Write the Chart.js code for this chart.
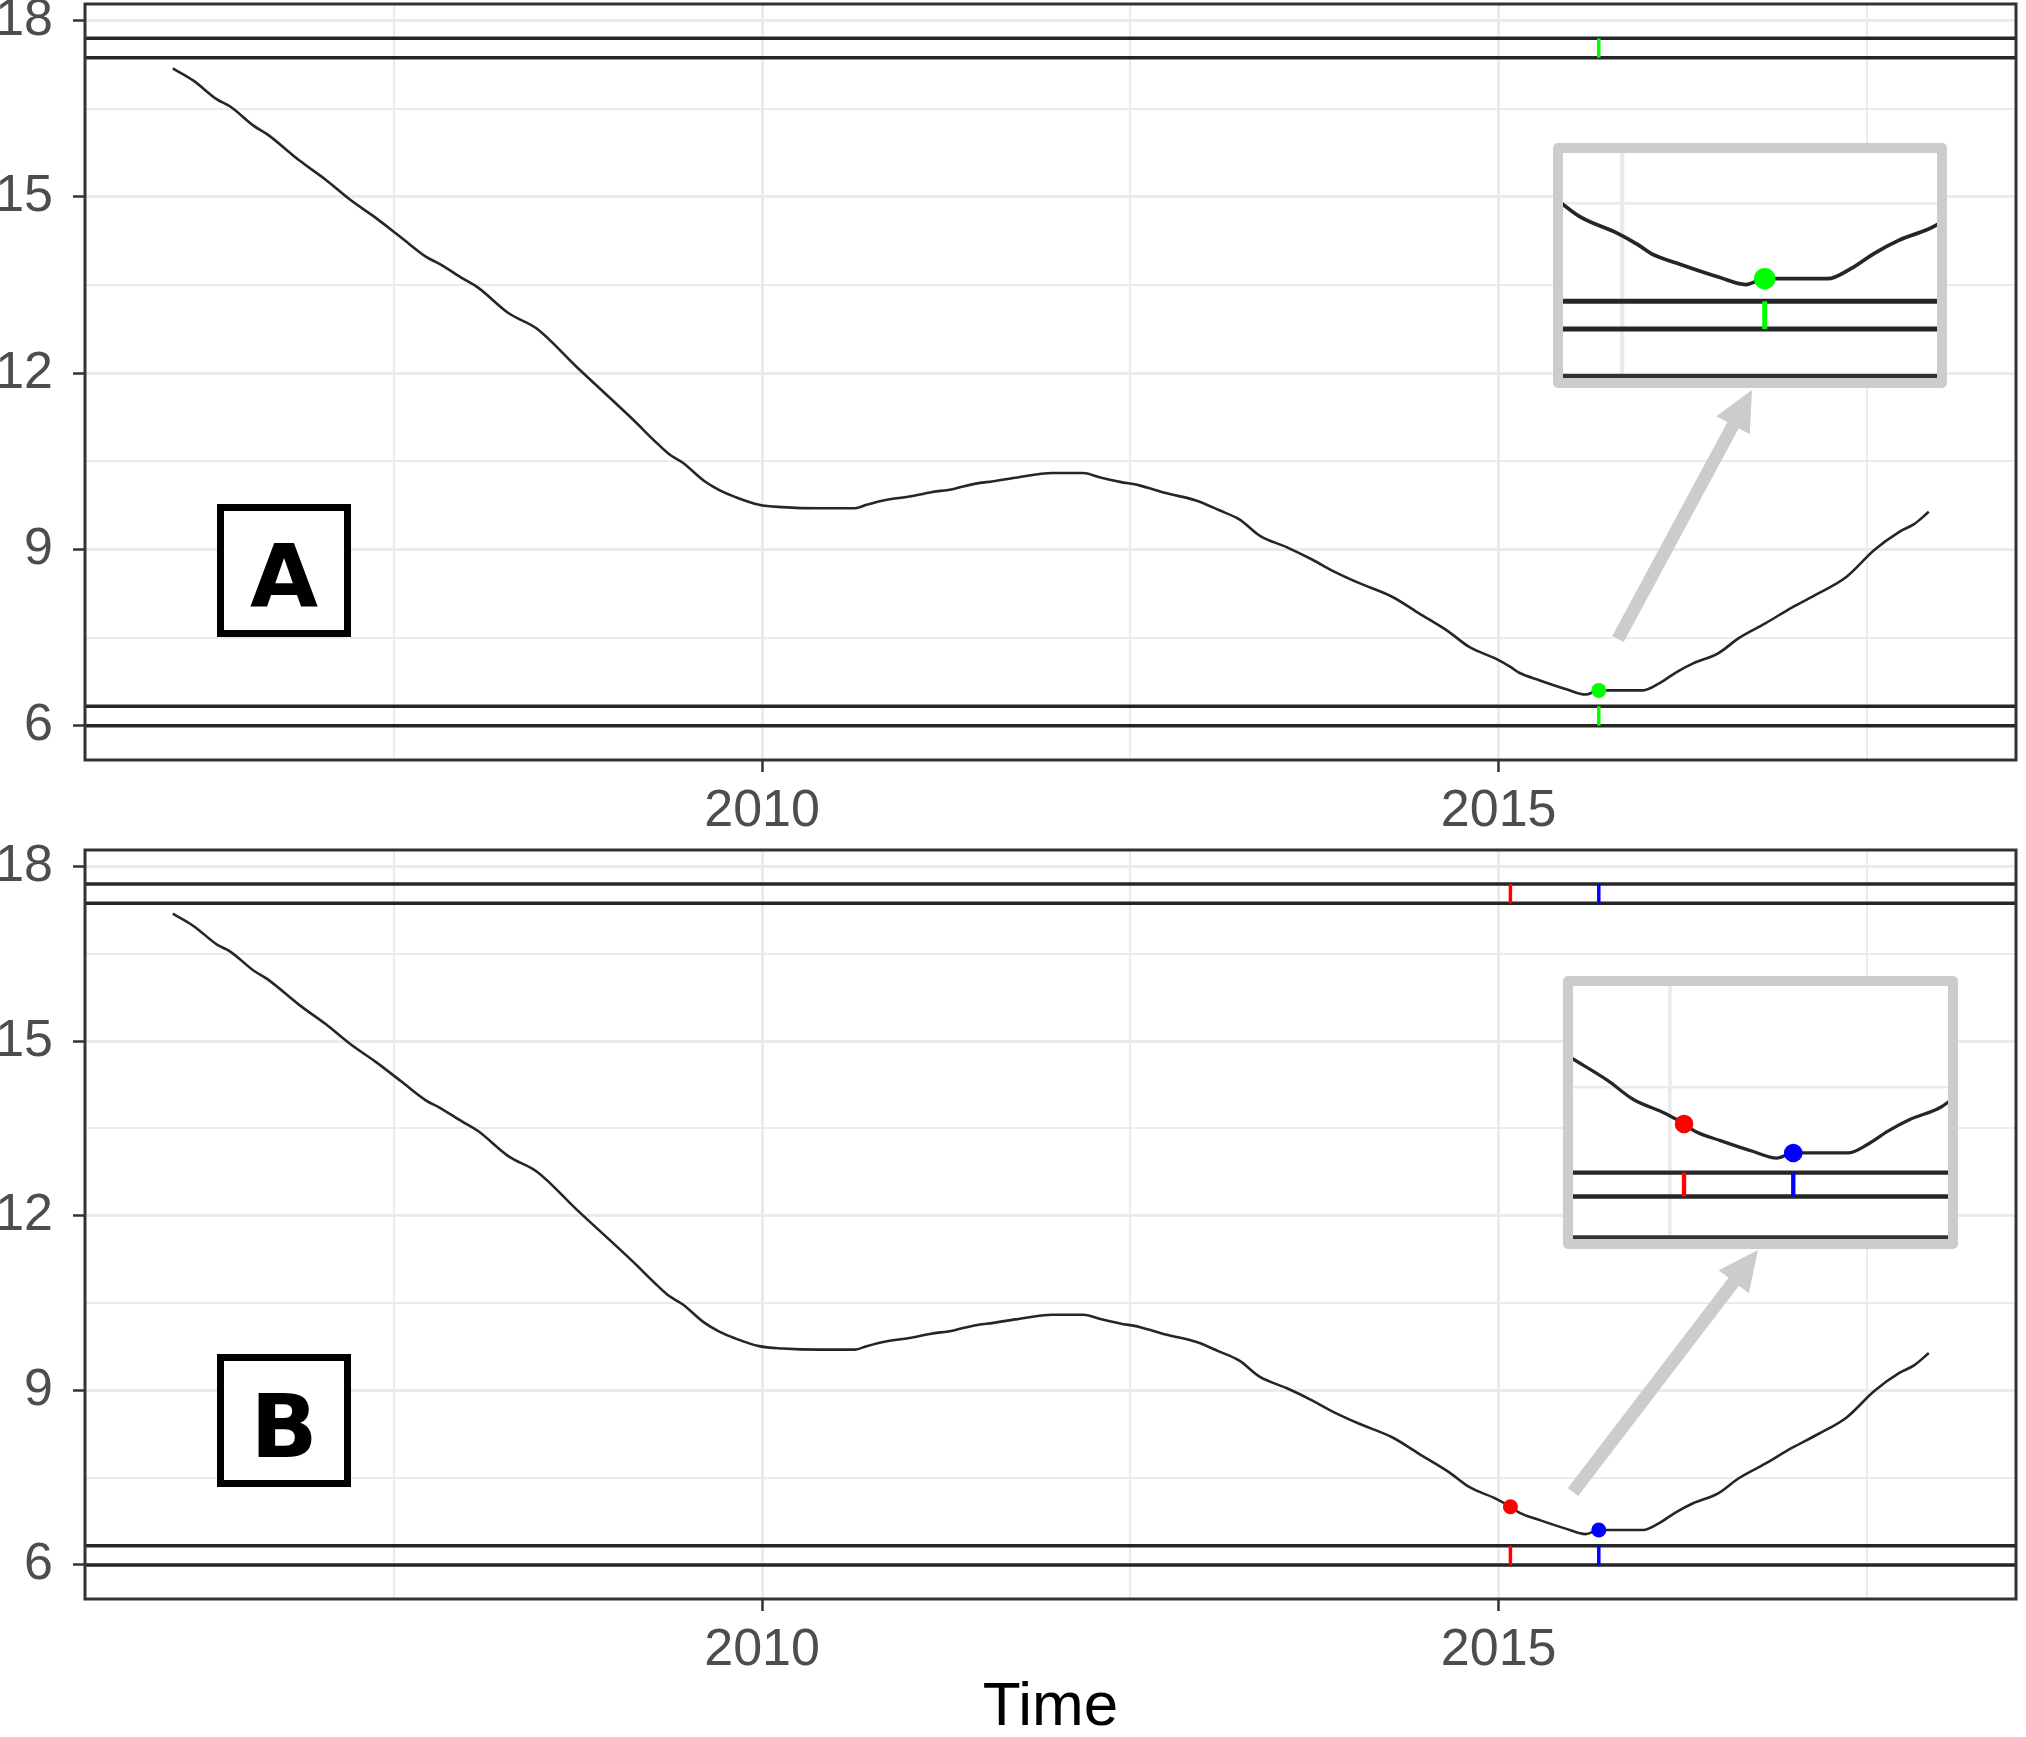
<!DOCTYPE html>
<html>
<head>
<meta charset="utf-8">
<title>Time series with change points</title>
<script src="https://cdn.jsdelivr.net/npm/chart.js@4.4.1/dist/chart.umd.min.js"></script>
<style>
  html, body {
    margin: 0;
    padding: 0;
    background: #ffffff;
    width: 2026px;
    height: 1737px;
    overflow: hidden;
    position: relative;
    font-family: "Liberation Sans", Arial, sans-serif;
  }
  .panel { position: absolute; left: 0; }
  .inset {
    position: absolute;
    box-sizing: border-box;
    border: 10px solid #cdcbcc;
    border-radius: 5px;
    background: #ffffff;
    z-index: 6;
  }
  .inset canvas { display: block; }
  .tag {
    position: absolute;
    box-sizing: border-box;
    width: 134px;
    height: 133px;
    border: 7px solid #000000;
    background: #ffffff;
    color: #000000;
    font: bold 88px "DejaVu Sans", sans-serif;
    line-height: 119px;
    text-align: center;
    padding-top: 6px;
    z-index: 6;
  }
  #arrows { position: absolute; left: 0; top: 0; z-index: 5; pointer-events: none; }
</style>
</head>
<body>

<canvas id="chartA" class="panel" width="2026" height="850" style="top:0px"></canvas>
<canvas id="chartB" class="panel" width="2026" height="910" style="top:840px"></canvas>
<canvas id="arrows" width="2026" height="1737"></canvas>

<div class="inset" style="left:1553px; top:143px; width:394px; height:245px;">
  <canvas id="insetA" width="374" height="225"></canvas>
</div>
<div class="inset" style="left:1563px; top:976px; width:395px; height:273px;">
  <canvas id="insetB" width="375" height="253"></canvas>
</div>

<div class="tag" style="left:217px; top:504px;">A</div>
<div class="tag" style="left:217px; top:1354px;">B</div>

<script>
// ==================== DATA ====================

// smoothed series (decimal years)
const years = [
  2006.00, 2006.14, 2006.30, 2006.39, 2006.55, 2006.64, 2006.86, 2007.04, 2007.20, 2007.38,
  2007.55, 2007.72, 2007.81, 2007.97, 2008.07, 2008.28, 2008.47, 2008.74, 2009.12, 2009.29,
  2009.37, 2009.46, 2009.61, 2009.71, 2009.82, 2009.98, 2010.14, 2010.39, 2010.63, 2010.71,
  2010.84, 2011.00, 2011.14, 2011.30, 2011.45, 2011.57, 2011.72, 2011.97, 2012.18, 2012.29,
  2012.43, 2012.56, 2012.74, 2012.95, 2013.10, 2013.24, 2013.38, 2013.56, 2013.74, 2013.87,
  2014.05, 2014.28, 2014.46, 2014.66, 2014.80, 2014.98, 2015.08, 2015.14, 2015.28, 2015.46,
  2015.59, 2015.68, 2015.98, 2016.09, 2016.20, 2016.32, 2016.49, 2016.63, 2016.81, 2016.99,
  2017.17, 2017.36, 2017.55, 2017.72, 2017.82, 2017.92
];
const values = [
  17.19, 16.98, 16.66, 16.54, 16.21, 16.07, 15.62, 15.29, 14.96, 14.64,
  14.31, 13.98, 13.86, 13.61, 13.46, 13.02, 12.76, 12.11, 11.22, 10.80,
  10.62, 10.48, 10.16, 10.01, 9.89, 9.76, 9.72, 9.70, 9.70, 9.76,
  9.84, 9.90, 9.97, 10.03, 10.12, 10.16, 10.22, 10.30, 10.30, 10.23,
  10.15, 10.09, 9.96, 9.83, 9.67, 9.51, 9.23, 9.04, 8.82, 8.64,
  8.43, 8.19, 7.91, 7.60, 7.34, 7.14, 7.00, 6.90, 6.77, 6.62,
  6.53, 6.60, 6.60, 6.72, 6.90, 7.06, 7.23, 7.49, 7.74, 8.01,
  8.25, 8.53, 8.99, 9.30, 9.43, 9.64
];

// horizontal rug bands (bottom pair and top pair)
const bandLevels = [6.0, 6.33, 17.37, 17.7];

// detected change points
const eventsA_x = [2015.68];
const eventsA_y = [6.6];
const eventsA_colors = ["#00ff00"];

const eventsB_x = [2015.08, 2015.68];
const eventsB_y = [7.0, 6.6];
const eventsB_colors = ["#ff0000", "#0000ff"];

// axis ticks
const xMajor = [2010, 2015];
const xMinor = [2007.5, 2012.5, 2017.5];
const yMajor = [6, 9, 12, 15, 18];
const yMinor = [7.5, 10.5, 13.5, 16.5];

// ==================== HELPERS ====================

const isMajor = (list, v) => list.some((m) => Math.abs(m - v) < 1e-6);

const tickFont = { family: "'Liberation Sans', Arial, sans-serif", size: 52 };

const panelBorder = {
  id: "panelBorder",
  afterDatasetsDraw(chart, args, opts) {
    const { ctx, chartArea: a } = chart;
    ctx.save();
    ctx.strokeStyle = "#333333";
    ctx.lineWidth = opts.width || 3;
    if (opts.bottomOnly) {
      ctx.beginPath();
      ctx.moveTo(a.left, a.bottom - ctx.lineWidth / 2);
      ctx.lineTo(a.right, a.bottom - ctx.lineWidth / 2);
      ctx.stroke();
    } else {
      ctx.strokeRect(a.left, a.top, a.right - a.left, a.bottom - a.top);
    }
    ctx.restore();
  },
};

function buildDatasets(xRange, evX, evY, evColors, z) {
  const datasets = [];

  // change points
  datasets.push({
    data: evX.map((x, i) => ({ x: x, y: evY[i] })),
    showLine: false,
    pointRadius: 7.5 * z,
    pointBackgroundColor: evColors,
    pointBorderWidth: 0,
    order: 0,
  });

  // coloured marks inside the bands
  evX.forEach((x, i) => {
    [[bandLevels[0], bandLevels[1]], [bandLevels[2], bandLevels[3]]].forEach((pair) => {
      datasets.push({
        data: [{ x: x, y: pair[0] }, { x: x, y: pair[1] }],
        borderColor: evColors[i],
        borderWidth: 3.5 * z,
        pointRadius: 0,
        order: 1,
      });
    });
  });

  // band lines
  bandLevels.forEach((level) => {
    datasets.push({
      data: [{ x: xRange[0], y: level }, { x: xRange[1], y: level }],
      borderColor: "#262626",
      borderWidth: 3.5 * z,
      pointRadius: 0,
      order: 2,
    });
  });

  // the series
  datasets.push({
    data: years.map((x, i) => ({ x: x, y: values[i] })),
    borderColor: "#262626",
    borderWidth: 2.6 * z,
    pointRadius: 0,
    cubicInterpolationMode: "monotone",
    order: 3,
  });

  return datasets;
}

function axis(min, max, majors, minors, cfg) {
  const z = cfg.zoom || 1;
  return {
    type: "linear",
    min: min,
    max: max,
    afterBuildTicks: (s) => {
      s.ticks = majors.concat(minors).map((v) => ({ value: v }));
    },
    afterFit: (s) => {
      if (cfg.size !== undefined) {
        if (s.isHorizontal()) s.height = cfg.size;
        else s.width = cfg.size;
      }
      // keep the panel edges where the layout puts them
      s.paddingTop = 0;
      s.paddingBottom = 0;
      s.paddingLeft = 0;
      s.paddingRight = 0;
    },
    ticks: {
      display: !cfg.inset,
      autoSkip: false,
      maxRotation: 0,
      padding: cfg.padding || 0,
      color: "#4d4d4d",
      font: tickFont,
      callback: (v) => (isMajor(majors, v) ? String(v) : ""),
    },
    grid: {
      color: "#ebebeb",
      lineWidth: (c) => (c.tick && isMajor(majors, c.tick.value) ? 3 * z : 2 * z),
      drawTicks: !cfg.inset,
      tickLength: 12,
      tickWidth: 2.5,
      tickColor: (c) => (c.tick && isMajor(majors, c.tick.value) ? "#333333" : "rgba(0,0,0,0)"),
    },
    border: { display: false },
    title: cfg.title || { display: false },
  };
}

function makeChart(canvas, cfg) {
  const z = cfg.zoom || 1;
  return new Chart(canvas, {
    type: "line",
    data: {
      datasets: buildDatasets(cfg.xRange, cfg.evX, cfg.evY, cfg.evColors, z),
    },
    options: {
      responsive: false,
      animation: false,
      events: [],
      layout: { padding: cfg.layoutPadding, autoPadding: false },
      plugins: {
        legend: { display: false },
        tooltip: { enabled: false },
        panelBorder: { width: 3 * z, bottomOnly: !!cfg.inset },
      },
      scales: {
        x: axis(cfg.xRange[0], cfg.xRange[1], xMajor, xMinor, {
          inset: cfg.inset,
          zoom: z,
          size: cfg.xSize,
          padding: 8,
          title: cfg.xTitle,
        }),
        y: axis(cfg.yRange[0], cfg.yRange[1], yMajor, yMinor, {
          inset: cfg.inset,
          zoom: z,
          size: cfg.ySize,
          padding: 20,
        }),
      },
    },
    plugins: [panelBorder],
  });
}

// ==================== PANELS ====================

const xRange = [2005.404, 2018.512];
const yRange = [5.415, 18.285];

makeChart(document.getElementById("chartA"), {
  xRange: xRange,
  yRange: yRange,
  evX: eventsA_x,
  evY: eventsA_y,
  evColors: eventsA_colors,
  xSize: 90,
  ySize: 85,
  layoutPadding: { top: 4, right: 10, left: 0, bottom: 0 },
});

makeChart(document.getElementById("chartB"), {
  xRange: xRange,
  yRange: yRange,
  evX: eventsB_x,
  evY: eventsB_y,
  evColors: eventsB_colors,
  xSize: 151,
  ySize: 85,
  layoutPadding: { top: 10, right: 10, left: 0, bottom: 0 },
  xTitle: {
    display: true,
    text: "Time",
    color: "#000000",
    font: { family: "'Liberation Sans', Arial, sans-serif", size: 62, lineHeight: 1 },
    padding: { top: 0, bottom: 11 },
  },
});

// ==================== INSETS ====================

makeChart(document.getElementById("insetA"), {
  xRange: [2014.72, 2016.5],
  yRange: [5.415, 8.1],
  evX: eventsA_x,
  evY: eventsA_y,
  evColors: eventsA_colors,
  inset: true,
  zoom: 1.43,
  xSize: 0,
  ySize: 0,
  layoutPadding: 0,
});

makeChart(document.getElementById("insetB"), {
  xRange: [2014.47, 2016.53],
  yRange: [5.415, 8.9],
  evX: eventsB_x,
  evY: eventsB_y,
  evColors: eventsB_colors,
  inset: true,
  zoom: 1.24,
  xSize: 0,
  ySize: 0,
  layoutPadding: 0,
});

// ==================== ARROWS ====================

function drawArrow(ctx, x1, y1, x2, y2) {
  const ang = Math.atan2(y2 - y1, x2 - x1);
  const headLen = 40;
  const headHalf = 19;
  const bx = x2 - headLen * Math.cos(ang);
  const by = y2 - headLen * Math.sin(ang);
  ctx.strokeStyle = "#cdcbcc";
  ctx.fillStyle = "#cdcbcc";
  ctx.lineWidth = 13;
  ctx.lineCap = "butt";
  ctx.beginPath();
  ctx.moveTo(x1, y1);
  ctx.lineTo(bx + 2 * Math.cos(ang), by + 2 * Math.sin(ang));
  ctx.stroke();
  ctx.beginPath();
  ctx.moveTo(x2, y2);
  ctx.lineTo(bx + headHalf * Math.sin(ang), by - headHalf * Math.cos(ang));
  ctx.lineTo(bx - headHalf * Math.sin(ang), by + headHalf * Math.cos(ang));
  ctx.closePath();
  ctx.fill();
}

const arrowCtx = document.getElementById("arrows").getContext("2d");
drawArrow(arrowCtx, 1618, 639, 1752, 390);
drawArrow(arrowCtx, 1573, 1492, 1758, 1250);
</script>
</body>
</html>
